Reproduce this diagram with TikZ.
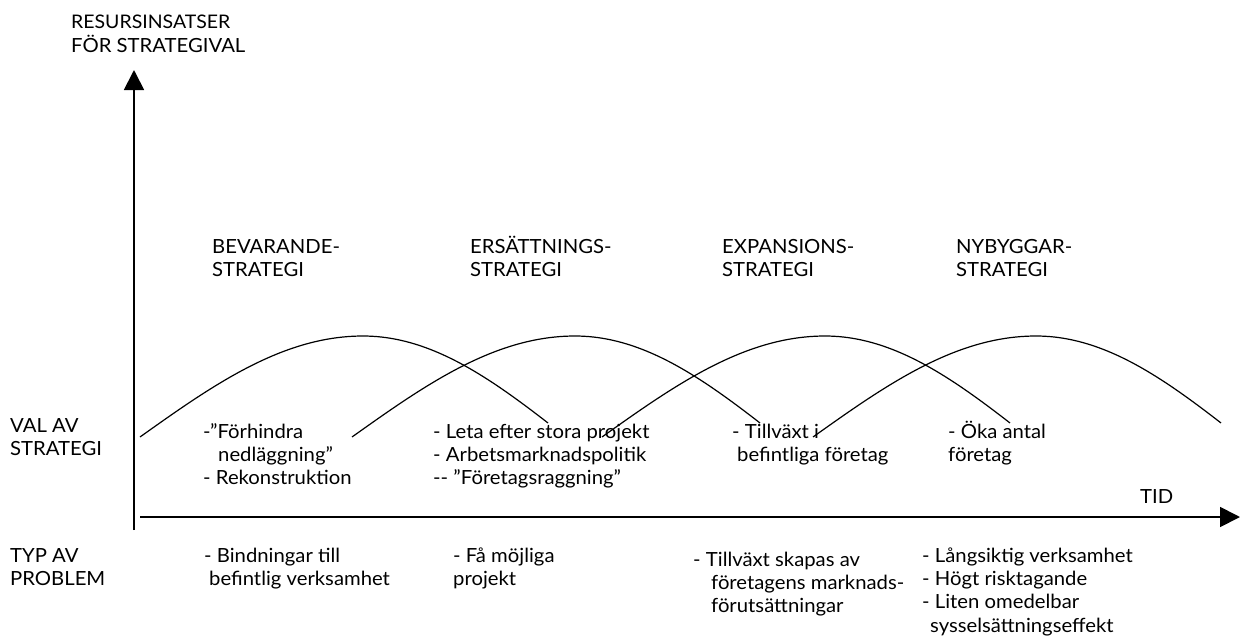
\documentclass[tikz,border=0pt]{standalone}
\usepackage{fontspec}
\setmainfont{Lato}[FakeStretch=1.04]
\usetikzlibrary{arrows.meta}
\newcommand\ml[1]{\begin{tabular}[t]{@{}l@{}}#1\end{tabular}}
\tikzset{
  txt/.style={inner sep=0pt, anchor=base west, font=\fontsize{19.5}{23.4}\selectfont},
  axisline/.style={line width=1.8pt, -{Triangle[length=20pt,width=20pt]}},
  arch/.style={line width=1.2pt}
}
% arch: peak at (#1,336); left half-cosine width 223, right width 203, cut at 185
\newcommand\archat[2]{%
  \coordinate (#2) at (#1,336);
  \draw[arch, shift={(#2)}]
    plot[domain=-223:0, samples=45] (\x,{101*(1-cos(\x/223*90))})
    -- plot[domain=0:185, samples=40] (\x,{101*(1-cos(\x/203*90))});}
\begin{document}
\begin{tikzpicture}[x=1pt,y=-1pt]
\useasboundingbox (0,0) rectangle (1240,637);
% axes
\coordinate (ybot) at (134,530);
\coordinate (ytop) at (134,70);
\coordinate (xleft) at (140,517);
\coordinate (xright) at (1240,517);
\draw[axisline] (ybot) -- (ytop);
\draw[axisline] (xleft) -- (xright);
% arches
\archat{363}{peak1}
\archat{575}{peak2}
\archat{825}{peak3}
\archat{1036}{peak4}
% axis labels
\node[txt] (ylab) at (71,28) {\ml{\resizebox{159pt}{!}{\vphantom{Ö}RESURSINSATSER}\\FÖR STRATEGIVAL}};
\node[txt] (tid) at (1140,503) {TID};
\node[txt] (val) at (10,432) {\ml{VAL AV\\STRATEGI}};
\node[txt] (typ) at (10,562) {\ml{TYP AV\\PROBLEM}};
% strategies
\node[txt] (s1) at (212,253) {\ml{BEVARANDE-\\STRATEGI}};
\node[txt] (s2) at (470,253) {\ml{ERSÄTTNINGS-\\STRATEGI}};
\node[txt] (s3) at (722,253) {\ml{EXPANSIONS-\\STRATEGI}};
\node[txt] (s4) at (956,253) {\ml{NYBYGGAR-\\STRATEGI}};
% choices
\node[txt] (v1) at (203,438) {\ml{-”Förhindra\\\hspace{15pt}nedläggning”\\- Rekonstruktion}};
\node[txt] (v2) at (433,438) {\ml{- Leta efter stora projekt\\- Arbetsmarknadspolitik\\-{}- ”Företagsraggning”}};
\node[txt] (v3) at (732,438) {\ml{- Tillväxt i\\\hspace{5pt}befintliga företag}};
\node[txt] (v4) at (948,438) {\ml{- Öka antal\\företag}};
% problems
\node[txt] (p1) at (204,562) {\ml{- Bindningar till\\\hspace{5pt}befintlig verksamhet}};
\node[txt] (p2) at (453,562) {\ml{- Få möjliga\\projekt}};
\node[txt] (p3) at (693,566) {\ml{- Tillväxt skapas av\\\hspace{18pt}företagens marknads-\\\hspace{18pt}förutsättningar}};
\node[txt] (p4) at (922,562) {\ml{- Långsiktig verksamhet\\- Högt risktagande\\- Liten omedelbar\\\hspace{8pt}sysselsättningseffekt}};
\end{tikzpicture}
\end{document}
